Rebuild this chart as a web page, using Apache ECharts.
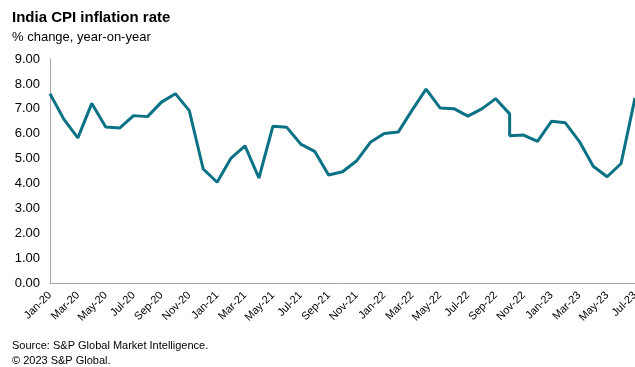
<!DOCTYPE html>
<html>
<head>
<meta charset="utf-8">
<script src="https://cdn.jsdelivr.net/npm/echarts@6/dist/echarts.min.js"></script>
<style>
html,body{margin:0;padding:0;background:#fff;}
#c{width:635px;height:367px;}
</style>
</head>
<body>
<div id="c"></div>
<script>
const months = ['Jan-20','Feb-20','Mar-20','Apr-20','May-20','Jun-20','Jul-20','Aug-20','Sep-20','Oct-20','Nov-20','Dec-20',
  'Jan-21','Feb-21','Mar-21','Apr-21','May-21','Jun-21','Jul-21','Aug-21','Sep-21','Oct-21','Nov-21','Dec-21',
  'Jan-22','Feb-22','Mar-22','Apr-22','May-22','Jun-22','Jul-22','Aug-22','Sep-22','Oct-22','Nov-22','Dec-22',
  'Jan-23','Feb-23','Mar-23','Apr-23','May-23','Jun-23','Jul-23'];
// observation months (Oct-22 appears twice in the source series: a step down)
const obsMonths = ['Jan-20','Feb-20','Mar-20','Apr-20','May-20','Jun-20','Jul-20','Aug-20','Sep-20','Oct-20','Nov-20','Dec-20',
  'Jan-21','Feb-21','Mar-21','Apr-21','May-21','Jun-21','Jul-21','Aug-21','Sep-21','Oct-21','Nov-21','Dec-21',
  'Jan-22','Feb-22','Mar-22','Apr-22','May-22','Jun-22','Jul-22','Aug-22','Sep-22','Oct-22','Oct-22','Nov-22','Dec-22',
  'Jan-23','Feb-23','Mar-23','Apr-23','May-23','Jun-23','Jul-23'];
const cpi = [7.61,6.58,5.84,7.22,6.27,6.23,6.73,6.69,7.27,7.61,6.93,4.59,
  4.06,5.03,5.52,4.23,6.30,6.26,5.59,5.30,4.35,4.48,4.91,5.66,
  6.01,6.07,6.95,7.79,7.04,7.01,6.71,7.00,7.41,6.80,5.92,5.95,5.70,
  6.50,6.44,5.70,4.70,4.28,4.81,7.44];
const yTicks = ['0.00','1.00','2.00','3.00','4.00','5.00','6.00','7.00','8.00','9.00'];

const data = obsMonths.map((m, i) => [months.indexOf(m), cpi[i]]);
const font = '"Liberation Sans", Arial, sans-serif';

const chart = echarts.init(document.getElementById('c'), null, {renderer: 'canvas'});
chart.setOption({
  animation: false,
  backgroundColor: '#fff',
  graphic: [
    {type: 'text', left: 12, top: 10, style: {text: 'India CPI inflation rate', font: 'bold 15px ' + font, fill: '#000'}},
    {type: 'text', left: 12, top: 31, style: {text: '% change, year-on-year', font: '13px ' + font, fill: '#000'}},
    {type: 'text', left: 12, top: 340, style: {text: 'Source: S&P Global Market Intelligence.', font: '11px ' + font, fill: '#000'}},
    {type: 'text', left: 12, top: 355, style: {text: '\u00a9 2023 S&P Global.', font: '11px ' + font, fill: '#000'}}
  ],
  grid: {left: 50, right: 0, top: 59, bottom: 83.5, containLabel: false, outerBoundsMode: 'none'},
  xAxis: {
    type: 'value', min: 0, max: months.length - 1, interval: 2,
    axisLine: {show: true, lineStyle: {color: '#a6a6a6', width: 1}},
    axisTick: {show: false},
    splitLine: {show: false},
    axisLabel: {
      rotate: 45, margin: 10, fontSize: 11, fontFamily: font, color: '#000',
      showMinLabel: true, showMaxLabel: true, hideOverlap: false,
      formatter: v => months[Math.round(v)] || ''
    }
  },
  yAxis: {
    type: 'value', min: 0, max: 9, interval: 1,
    axisLine: {show: true, lineStyle: {color: '#a6a6a6', width: 1}},
    axisTick: {show: false},
    splitLine: {show: false},
    axisLabel: {fontSize: 13, fontFamily: font, color: '#000', margin: 10,
      formatter: v => yTicks[Math.round(v)]}
  },
  series: [{
    type: 'line', data: data, showSymbol: false, symbol: 'none',
    lineStyle: {color: '#0b7285', width: 3},
    clip: false
  }]
});
</script>
</body>
</html>
